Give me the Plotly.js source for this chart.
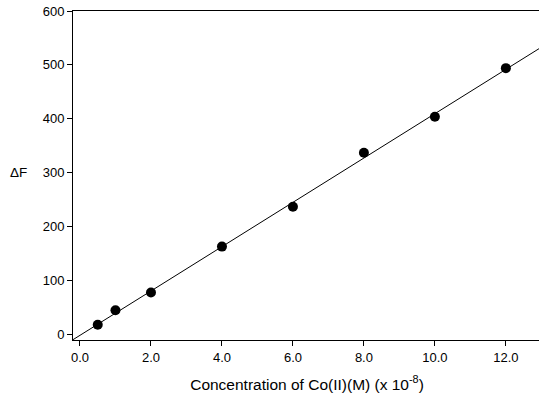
<!DOCTYPE html>
<html>
<head>
<meta charset="utf-8">
<script src="https://cdn.plot.ly/plotly-3.0.1.min.js"></script>
<style>
html,body{margin:0;padding:0;overflow:hidden;background:#fff;}
#chart{width:545px;height:400px;}
</style>
</head>
<body>
<div id="chart"></div>
<script>
// Data
var concentration = [0.5, 1, 2, 4, 6, 8, 10, 12];
var deltaF = [18, 45, 78, 163, 237, 337, 404, 494];
var fitRange = [-0.2, 13.2];

// least-squares fit of the data
var n = concentration.length;
var mx = concentration.reduce(function(a,b){return a+b;},0)/n;
var my = deltaF.reduce(function(a,b){return a+b;},0)/n;
var sxx = 0, sxy = 0;
for (var i = 0; i < n; i++) {
  sxx += (concentration[i]-mx)*(concentration[i]-mx);
  sxy += (concentration[i]-mx)*(deltaF[i]-my);
}
var slope = sxy/sxx, intercept = my - slope*mx;
var fitX = fitRange;
var fitY = fitRange.map(function(x){return slope*x + intercept;});

var font = "Liberation Sans, Arial, sans-serif";
var traces = [
  {x: fitX, y: fitY, mode: 'lines', line: {color: '#000', width: 1}, hoverinfo: 'skip', showlegend: false},
  {x: concentration, y: deltaF, mode: 'markers', marker: {color: '#000', size: 10}, showlegend: false}
];
var layout = {
  width: 545, height: 400,
  margin: {l: 73, r: 4, t: 11, b: 60},
  paper_bgcolor: '#fff', plot_bgcolor: '#fff',
  font: {family: font, color: '#000', size: 13},
  xaxis: {
    range: [-0.197, 12.99], tick0: 0, dtick: 2, tickformat: '.1f',
    showline: true, linecolor: '#000', linewidth: 1, mirror: true,
    ticks: 'outside', ticklen: 5, tickcolor: '#000', tickwidth: 1,
    showgrid: false, zeroline: false,
    title: {text: 'Concentration of Co(II)(M) (x 10<sup>-8</sup>)', font: {size: 15.5}, standoff: 15}
  },
  yaxis: {
    range: [-10.2, 600], tick0: 0, dtick: 100,
    showline: true, linecolor: '#000', linewidth: 1,
    ticks: 'outside', ticklen: 5, tickcolor: '#000', tickwidth: 1,
    showgrid: false, zeroline: false
  },
  annotations: [
    {text: 'ΔF', xref: 'paper', yref: 'y', x: -0.094, y: 300, xanchor: 'right', yanchor: 'middle', showarrow: false, font: {size: 13.5}}
  ]
};
Plotly.newPlot('chart', traces, layout, {displayModeBar: false, staticPlot: true});
</script>
</body>
</html>
